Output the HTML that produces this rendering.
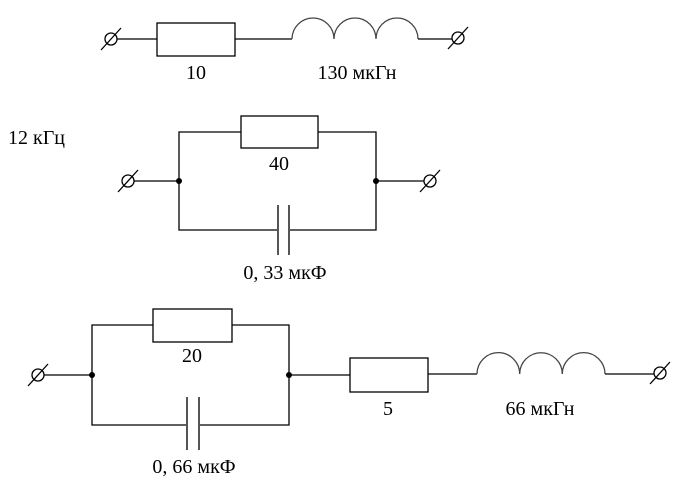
<!DOCTYPE html>
<html><head><meta charset="utf-8"><style>
html,body{margin:0;padding:0;background:#fff;}
svg{display:block;}
text{font-family:"Liberation Serif",serif;font-size:20px;fill:#000;}
</style></head><body>
<svg width="680" height="484" viewBox="0 0 680 484" xmlns="http://www.w3.org/2000/svg">
<g stroke="#000" stroke-width="1.3" fill="none">
<!-- circuit 1 -->
<circle cx="111" cy="39" r="6"/><line x1="101" y1="50" x2="121" y2="28"/>
<line x1="117" y1="39" x2="157" y2="39"/>
<rect x="157" y="23" width="78" height="33"/>
<line x1="235" y1="39" x2="292" y2="39"/>
<path d="M292,39 A21 21 0 0 1 334,39 A21 21 0 0 1 376,39 A21 21 0 0 1 418,39" stroke="#444"/>
<line x1="418" y1="39" x2="452" y2="39"/>
<circle cx="458" cy="38" r="6"/><line x1="448" y1="49" x2="468" y2="27"/>
<!-- circuit 2 -->
<circle cx="128" cy="181" r="6"/><line x1="118" y1="192" x2="138" y2="170"/>
<line x1="134" y1="181" x2="179" y2="181"/>
<polyline points="179,181 179,132 241,132"/>
<rect x="241" y="116" width="77" height="32"/>
<polyline points="318,132 376,132 376,230 289,230"/>
<polyline points="278,230 179,230 179,181"/>
<line x1="278" y1="205" x2="278" y2="255" stroke="#555" stroke-width="2"/>
<line x1="289" y1="205" x2="289" y2="255" stroke="#555" stroke-width="2"/>
<line x1="376" y1="181" x2="424" y2="181"/>
<circle cx="430" cy="181" r="6"/><line x1="420" y1="192" x2="440" y2="170"/>
<!-- circuit 3 -->
<circle cx="38" cy="375" r="6"/><line x1="28" y1="386" x2="48" y2="364"/>
<line x1="44" y1="375" x2="92" y2="375"/>
<polyline points="92,375 92,325 153,325"/>
<rect x="153" y="309" width="79" height="33"/>
<polyline points="232,325 289,325 289,425 199,425"/>
<polyline points="187,425 92,425 92,375"/>
<line x1="187" y1="397" x2="187" y2="450" stroke="#555" stroke-width="2"/>
<line x1="199" y1="397" x2="199" y2="450" stroke="#555" stroke-width="2"/>
<line x1="289" y1="375" x2="350" y2="375"/>
<rect x="350" y="358" width="78" height="34"/>
<line x1="428" y1="374" x2="477" y2="374"/>
<path d="M477,374 A21.3 21.3 0 0 1 519.7,374 A21.3 21.3 0 0 1 562.3,374 A21.3 21.3 0 0 1 605,374" stroke="#444"/>
<line x1="605" y1="374" x2="654" y2="374"/>
<circle cx="660" cy="373" r="6"/><line x1="650" y1="384" x2="670" y2="362"/>
</g>
<g fill="#000">
<circle cx="179" cy="181" r="3"/><circle cx="376" cy="181" r="3"/>
<circle cx="92" cy="375" r="3"/><circle cx="289" cy="375" r="3"/>
</g>
<text x="196" y="79" text-anchor="middle">10</text>
<text x="357" y="79" text-anchor="middle">130 мкГн</text>
<text x="8" y="144">12 кГц</text>
<text x="279" y="170" text-anchor="middle">40</text>
<text x="285" y="279" text-anchor="middle">0, 33 мкФ</text>
<text x="192" y="362" text-anchor="middle">20</text>
<text x="194" y="473" text-anchor="middle">0, 66 мкФ</text>
<text x="388" y="415" text-anchor="middle">5</text>
<text x="540" y="415" text-anchor="middle">66 мкГн</text>
</svg>
</body></html>
